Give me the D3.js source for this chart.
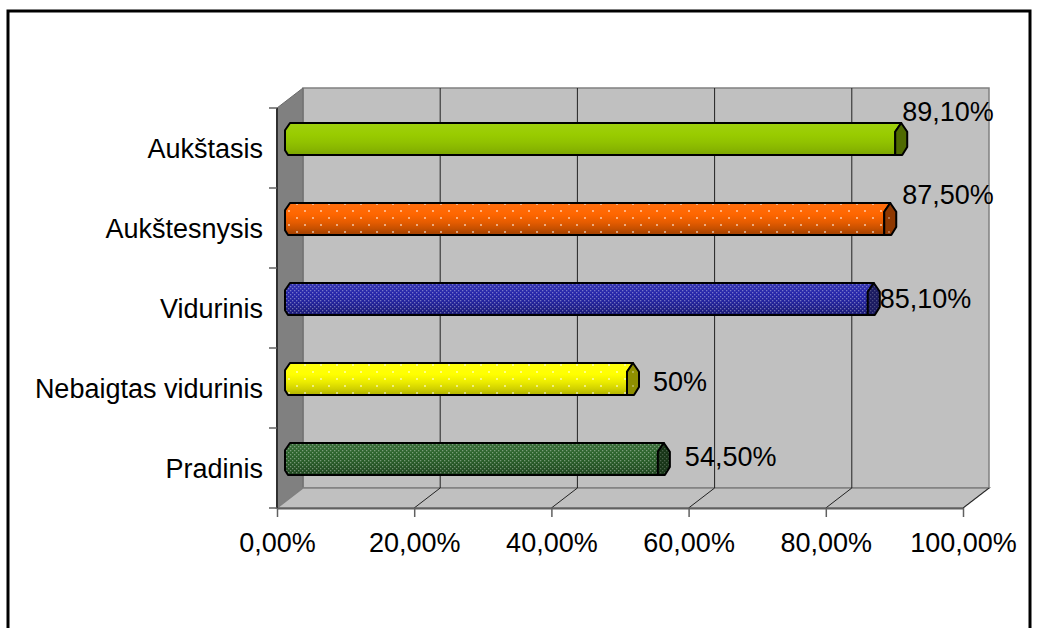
<!DOCTYPE html>
<html>
<head>
<meta charset="utf-8">
<script src="https://cdn.jsdelivr.net/npm/d3@7"></script>
<style>
  body { margin: 0; background: #fff; }
  svg { display: block; }
  text { font-family: "Liberation Sans", Arial, sans-serif; fill: #000; }
</style>
</head>
<body>
<svg id="chart" width="1037" height="628"></svg>
<script>
// Education level and share (top to bottom)
const categories = ["Aukštasis", "Aukštesnysis", "Vidurinis", "Nebaigtas vidurinis", "Pradinis"];
const values = [0.891, 0.875, 0.851, 0.50, 0.545];
const valueLabels = ["89,10%", "87,50%", "85,10%", "50%", "54,50%"];
const xTicks = [0, 0.2, 0.4, 0.6, 0.8, 1.0];
const xTickLabels = ["0,00%", "20,00%", "40,00%", "60,00%", "80,00%", "100,00%"];

// Styling per bar
const barColors = ["#99cc00", "#ff6600", "#2626aa", "#ffff00", "#2c642c"];
const capColors = ["#4f6a00", "#8f3800", "#1a1a60", "#8f8f00", "#173517"];
const barPatterns = ["none", "sparse", "dense", "sparse", "dense"];
const shadeDepth = [0.5, 1, 0.9, 0.8, 0.9];
// label placement relative to the bar end / bar centre
const labelNudge = [[1, -17], [12, -14], [6, 10], [20, 13], [21, 8]];

const FONT = 27;
const svg = d3.select("#chart");
const defs = svg.append("defs");

// outer frame
svg.append("rect")
  .attr("x", 8).attr("y", 11).attr("width", 1022).attr("height", 640)
  .attr("fill", "#fff").attr("stroke", "#000").attr("stroke-width", 3);

const x = d3.scaleLinear().domain([0, 1]).range([277, 963]);
const y = d3.scaleBand().domain(categories).range([108, 508]);
const depth = { dx: 26, dy: -20 };
const [y0, y1] = y.range();
const x0 = x(0), x1 = x(1);

// dot patterns
function makePattern(id, w, h, dots, size, opacity) {
  const p = defs.append("pattern").attr("id", id)
    .attr("patternUnits", "userSpaceOnUse").attr("width", w).attr("height", h);
  dots.forEach(([px, py]) => p.append("rect")
    .attr("x", px).attr("y", py).attr("width", size).attr("height", size)
    .attr("fill", "#fff").attr("fill-opacity", opacity));
}
makePattern("pat-sparse", 16, 14, [[0, 0], [8, 7]], 2, 0.5);
makePattern("pat-dense", 4, 4, [[0, 0], [2, 2]], 1.3, 0.36);

// shading gradients for each bar
function shade(c, k) { return d3.interpolateRgb(c, k > 0 ? "#fff" : "#000")(Math.abs(k)); }
barColors.forEach((c, i) => {
  const s = shadeDepth[i];
  const g = defs.append("linearGradient").attr("id", "grad" + i)
    .attr("x1", 0).attr("y1", 0).attr("x2", 0).attr("y2", 1);
  [[0, 0.06], [0.35, 0], [0.6, -0.1 * s], [0.8, -0.22 * s], [1, -0.38 * s]].forEach(([o, k]) =>
    g.append("stop").attr("offset", o).attr("stop-color", shade(c, k)));
});

// walls and floor
const wall = svg.append("g");
wall.append("rect")
  .attr("x", x0 + depth.dx).attr("y", y0 + depth.dy)
  .attr("width", x1 - x0).attr("height", y1 - y0)
  .attr("fill", "#c0c0c0").attr("stroke", "#808080").attr("stroke-width", 1.5);
wall.append("polygon")
  .attr("points", [[x0, y0], [x0 + depth.dx, y0 + depth.dy], [x0 + depth.dx, y1 + depth.dy], [x0, y1]].join(" "))
  .attr("fill", "#808080").attr("stroke", "#6a6a6a").attr("stroke-width", 1);
wall.append("polygon")
  .attr("points", [[x0, y1], [x0 + depth.dx, y1 + depth.dy], [x1 + depth.dx, y1 + depth.dy], [x1, y1]].join(" "))
  .attr("fill", "#c0c0c0").attr("stroke", "#808080").attr("stroke-width", 1.5);

// gridlines on back wall and floor
const grid = svg.append("g").attr("stroke", "#222").attr("stroke-width", 1);
xTicks.slice(1, -1).forEach(t => {
  grid.append("line")
    .attr("x1", x(t) + depth.dx).attr("x2", x(t) + depth.dx)
    .attr("y1", y0 + depth.dy).attr("y2", y1 + depth.dy);
});
xTicks.slice(1).forEach(t => {
  grid.append("line")
    .attr("x1", x(t) + depth.dx).attr("y1", y1 + depth.dy)
    .attr("x2", x(t)).attr("y2", y1);
});

// x axis
const xAxis = d3.axisBottom(x)
  .tickValues(xTicks)
  .tickFormat((d, i) => xTickLabels[i])
  .tickSize(9).tickPadding(16).tickSizeOuter(0);
const gx = svg.append("g").attr("transform", `translate(0,${y1})`).call(xAxis);
gx.select(".domain").attr("stroke", "#606060").attr("stroke-width", 2);
gx.selectAll(".tick line").attr("stroke", "#606060").attr("stroke-width", 1.5);
gx.selectAll("text").attr("font-size", FONT).style("font-family", '"Liberation Sans", Arial, sans-serif');

// y axis: line, boundary ticks, centred labels
const gy = svg.append("g");
gy.append("line").attr("x1", x0).attr("x2", x0).attr("y1", y0).attr("y2", y1)
  .attr("stroke", "#303030").attr("stroke-width", 2);
const bounds = categories.map(c => y(c)).concat([y1]);
gy.selectAll("line.tk").data(bounds).join("line").attr("class", "tk")
  .attr("x1", x0 - 8).attr("x2", x0).attr("y1", d => d).attr("y2", d => d)
  .attr("stroke", "#606060").attr("stroke-width", 1.5);
gy.selectAll("text").data(categories).join("text")
  .attr("x", x0 - 14)
  .attr("y", d => y(d) + y.bandwidth() / 2)
  .attr("dy", "0.36em")
  .attr("text-anchor", "end")
  .attr("font-size", FONT)
  .text(d => d);

// bars (octagonal prisms at mid depth)
const half = y.bandwidth() * 0.2;
const bars = svg.append("g");
categories.forEach((cat, i) => {
  const cy = y(cat) + y.bandwidth() / 2 + depth.dy / 2 + 1;
  const bx = x0 + depth.dx / 2;
  const xe = x(values[i]) + depth.dx / 2;
  const h = half;
  const body = [
    [bx, cy - h], [xe, cy - h], [xe - 6, cy - h * 0.45], [xe - 6, cy + h],
    [bx - 2, cy + h], [bx - 5, cy + h * 0.7], [bx - 5, cy - h * 0.55]
  ];
  const cap = [
    [xe - 6, cy - h * 0.45], [xe, cy - h], [xe + 6, cy - h * 0.45],
    [xe + 6, cy + h * 0.5], [xe + 1, cy + h], [xe - 6, cy + h]
  ];
  const g = bars.append("g");
  g.append("polygon").attr("points", body.join(" ")).attr("fill", `url(#grad${i})`);
  if (barPatterns[i] !== "none")
    g.append("polygon").attr("points", body.join(" ")).attr("fill", `url(#pat-${barPatterns[i]})`);
  g.append("polygon").attr("points", body.join(" "))
    .attr("fill", "none").attr("stroke", "#000").attr("stroke-width", 2).attr("stroke-linejoin", "round");
  g.append("polygon").attr("points", cap.join(" ")).attr("fill", capColors[i]);
  if (barPatterns[i] !== "none")
    g.append("polygon").attr("points", cap.join(" ")).attr("fill", `url(#pat-${barPatterns[i]})`).attr("opacity", 0.6);
  g.append("polygon").attr("points", cap.join(" "))
    .attr("fill", "none").attr("stroke", "#000").attr("stroke-width", 2).attr("stroke-linejoin", "round");

  // value label
  svg.append("text")
    .attr("x", xe + labelNudge[i][0])
    .attr("y", cy - 1 + labelNudge[i][1])
    .attr("font-size", FONT)
    .text(valueLabels[i]);
});
</script>
</body>
</html>
